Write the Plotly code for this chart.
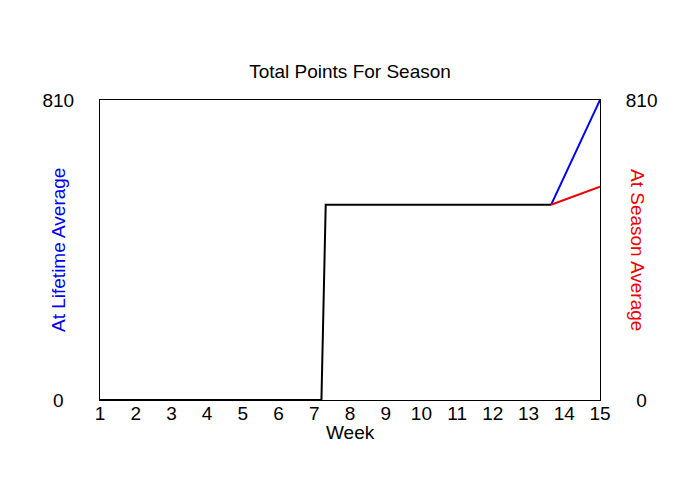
import plotly.graph_objects as go

# Data
weeks_actual = [1, 7.2, 7.32, 13.63]
points_actual = [0, 0, 527, 527]
weeks_proj = [13.63, 15]
points_lifetime = [527, 810]
points_season = [527, 576]
x_ticks = list(range(1, 16))
y_ticks = [0, 810]

FONT = "Liberation Sans, Arial, sans-serif"

fig = go.Figure()
fig.add_trace(go.Scatter(x=weeks_proj, y=points_lifetime, mode="lines",
                         line=dict(color="#0000ee", width=2), yaxis="y", showlegend=False))
fig.add_trace(go.Scatter(x=weeks_proj, y=points_season, mode="lines",
                         line=dict(color="#ee0000", width=2), yaxis="y2", showlegend=False))
fig.add_trace(go.Scatter(x=weeks_actual, y=points_actual, mode="lines",
                         line=dict(color="black", width=2), yaxis="y", showlegend=False))

fig.update_layout(
    width=700, height=500,
    margin=dict(l=100, r=100, t=100, b=100, autoexpand=False),
    paper_bgcolor="white", plot_bgcolor="white",
    font=dict(family=FONT, size=19, color="black"),
    title=dict(text="Total Points For Season", x=0.5, xanchor="center",
               y=1 - 71 / 500, yanchor="middle", font=dict(size=19, color="black")),
    xaxis=dict(range=[1, 15], tickmode="array", tickvals=x_ticks,
               ticktext=[str(v) for v in x_ticks], ticks="", showgrid=False,
               zeroline=False, showline=True, linecolor="black", linewidth=1,
               mirror=True, ticklabelstandoff=-4),
    yaxis=dict(range=[0, 810], tickmode="array", tickvals=y_ticks,
               ticktext=["0\u00a0\u00a0", "810"], ticks="", showgrid=False,
               zeroline=False, showline=True, linecolor="black", linewidth=1,
               mirror=True, ticklabelstandoff=21),
    yaxis2=dict(range=[0, 810], overlaying="y", side="right", tickmode="array",
                tickvals=y_ticks, ticktext=["\u00a0\u00a00", "810"], ticks="",
                showgrid=False, zeroline=False, showline=True, linecolor="black",
                linewidth=1, ticklabelstandoff=21),
    annotations=[
        dict(text="Week", xref="paper", yref="paper",
             x=0.5, y=(400 - 432) / 300, xanchor="center", yanchor="middle",
             showarrow=False, font=dict(size=19, color="black")),
        dict(text="At Lifetime Average", xref="paper", yref="paper",
             x=(58 - 100) / 500, y=0.5, xanchor="center", yanchor="middle",
             textangle=-90, showarrow=False, font=dict(size=19, color="#0000ee")),
        dict(text="At Season Average", xref="paper", yref="paper",
             x=(638 - 100) / 500, y=0.5, xanchor="center", yanchor="middle",
             textangle=90, showarrow=False, font=dict(size=19, color="#ee0000")),
    ],
)

fig.write_html("out.html")
